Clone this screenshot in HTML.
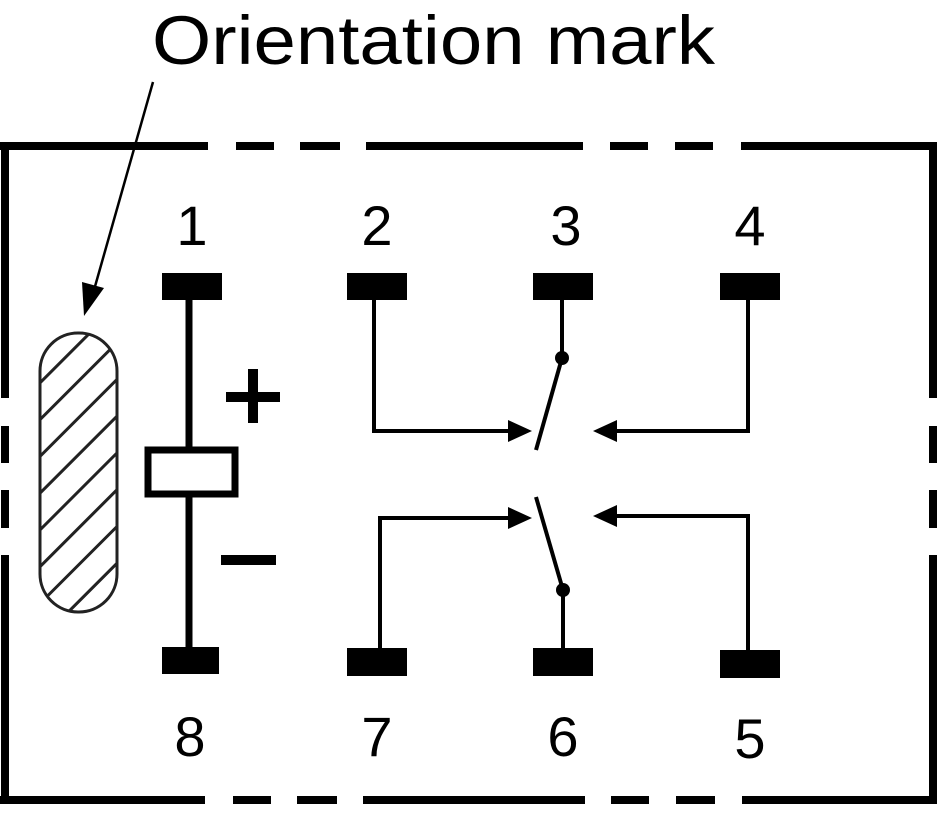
<!DOCTYPE html>
<html><head><style>html,body{margin:0;padding:0;background:#fff}</style></head>
<body>
<svg width="945" height="808" viewBox="0 0 945 808" xmlns="http://www.w3.org/2000/svg">
<defs>
<pattern id="h" patternUnits="userSpaceOnUse" width="26" height="26" patternTransform="rotate(45)">
<line x1="13" y1="0" x2="13" y2="26" stroke="#222" stroke-width="3"/>
</pattern>
<clipPath id="oc"><rect x="40" y="333" width="77" height="279" rx="38"/></clipPath>
</defs>
<text x="152" y="64" font-family="Liberation Sans, sans-serif" font-size="69" textLength="563" lengthAdjust="spacingAndGlyphs">Orientation mark</text>
<g fill="#000">
<rect x="0" y="142" width="208" height="8"/><rect x="236" y="142" width="38" height="8"/><rect x="300" y="142" width="40" height="8"/>
<rect x="366" y="142" width="217" height="8"/><rect x="610" y="142" width="38" height="8"/><rect x="675" y="142" width="38" height="8"/><rect x="741" y="142" width="196" height="8"/>
<rect x="0" y="796" width="205" height="8"/><rect x="233" y="796" width="38" height="8"/><rect x="297" y="796" width="40" height="8"/>
<rect x="363" y="796" width="222" height="8"/><rect x="611" y="796" width="38" height="8"/><rect x="676" y="796" width="39" height="8"/><rect x="742" y="796" width="195" height="8"/>
<rect x="1" y="142" width="8" height="256"/><rect x="1" y="426" width="8" height="37"/><rect x="1" y="490" width="8" height="38"/><rect x="1" y="555" width="8" height="249"/>
<rect x="929" y="142" width="8" height="256"/><rect x="929" y="426" width="8" height="37"/><rect x="929" y="490" width="8" height="38"/><rect x="929" y="555" width="8" height="249"/>
</g>
<line x1="153" y1="82" x2="94" y2="290" stroke="#000" stroke-width="2.5"/>
<polygon points="84,316 82,282 104,288" fill="#000"/>
<rect x="40" y="333" width="77" height="279" rx="38" fill="url(#h)" clip-path="url(#oc)"/>
<rect x="40" y="333" width="77" height="279" rx="38" fill="none" stroke="#222" stroke-width="3"/>
<g stroke="#000" stroke-width="7" fill="none">
<line x1="189" y1="290" x2="189" y2="450"/><line x1="189" y1="494" x2="189" y2="660"/>
<rect x="148" y="450" width="87" height="44" fill="#fff"/>
</g>
<rect x="226" y="392" width="54" height="10" fill="#000"/><rect x="248" y="369" width="10" height="54" fill="#000"/>
<rect x="221" y="555" width="55" height="10" fill="#000"/>
<g fill="#000">
<rect x="162" y="273" width="60" height="27"/><rect x="347" y="273" width="60" height="27"/><rect x="533" y="273" width="60" height="27"/><rect x="720" y="273" width="60" height="27"/>
<rect x="162" y="647" width="57" height="27"/><rect x="347" y="648" width="60" height="28"/><rect x="533" y="648" width="60" height="28"/><rect x="720" y="650" width="60" height="28"/>
</g>
<g stroke="#000" stroke-width="4" fill="none">
<polyline points="374,290 374,431 512,431"/>
<polyline points="748,290 748,431 612,431"/>
<polyline points="380,660 380,518 512,518"/>
<polyline points="748,660 748,516 612,516"/>
<line x1="562" y1="290" x2="562" y2="358"/><line x1="562" y1="358" x2="536" y2="450"/>
<line x1="563" y1="660" x2="563" y2="590"/><line x1="563" y1="590" x2="536" y2="497"/>
</g>
<g fill="#000">
<polygon points="532,431 508,420 508,442"/>
<polygon points="593,431 617,420 617,442"/>
<polygon points="532,518 508,507 508,529"/>
<polygon points="593,516 617,505 617,527"/>
<circle cx="562" cy="358" r="7"/><circle cx="563" cy="590" r="7"/>
</g>
<g font-family="Liberation Sans, sans-serif" font-size="56" text-anchor="middle">
<text x="192" y="245">1</text><text x="377" y="245">2</text><text x="566" y="245">3</text><text x="750" y="245">4</text>
<text x="190" y="756">8</text><text x="377" y="756">7</text><text x="563" y="756">6</text><text x="750" y="758">5</text>
</g>
</svg>
</body></html>
